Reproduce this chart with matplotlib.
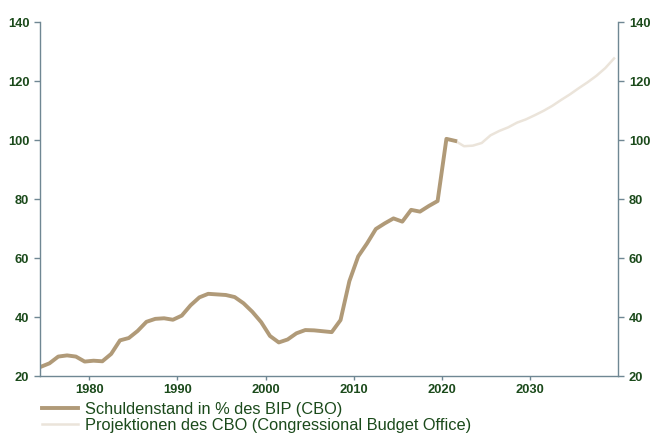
import matplotlib.pyplot as plt
import numpy as np

plt.rcParams['font.family'] = ['Liberation Sans', 'DejaVu Sans']

# Schuldenstand in % des BIP (CBO), 1974-2021
hist_years = list(range(1974, 2022))
hist_vals = [23.1, 24.3, 26.6, 27.0, 26.6, 24.9, 25.2, 25.0, 27.5, 32.1,
             32.9, 35.3, 38.4, 39.4, 39.6, 39.1, 40.5, 44.0, 46.7, 47.9,
             47.7, 47.5, 46.8, 44.7, 41.8, 38.3, 33.6, 31.4, 32.4, 34.5,
             35.6, 35.5, 35.2, 34.9, 39.0, 52.2, 60.6, 65.0, 69.9, 71.8,
             73.5, 72.4, 76.4, 75.8, 77.7, 79.4, 100.5, 99.8]

# CBO projections, 2021-2039
proj_years = list(range(2021, 2040))
proj_vals = [99.8, 98.0, 98.2, 99.1, 101.7, 103.2, 104.4, 106.0, 107.1,
             108.5, 110.0, 111.7, 113.7, 115.6, 117.7, 119.7, 121.9, 124.5,
             127.8]

xticks = [1980, 1990, 2000, 2010, 2020, 2030]
yticks = [20, 40, 60, 80, 100, 120, 140]

hist_label = 'Schuldenstand in % des BIP (CBO)'
proj_label = 'Projektionen des CBO (Congressional Budget Office)'

text_col = '#1b4a1b'
axis_col = '#6f8793'

fig = plt.figure(figsize=(6.51, 4.34), dpi=100)
ax = fig.add_axes([0.061, 0.1336, 0.889, 0.8146])

# values are annual, drawn at mid-year
ax.plot(np.array(proj_years) + 0.5, proj_vals, color='#ebe4da', lw=1.8,
        label=proj_label, solid_joinstyle='round')
ax.plot(np.array(hist_years) + 0.5, hist_vals, color='#b09a78', lw=2.8,
        label=hist_label, solid_joinstyle='round')

ax.set_xlim(1974.4, 2040)
ax.set_ylim(20, 140)
ax.set_xticks(xticks)
ax.set_yticks(yticks)

ax.spines['top'].set_visible(False)
for s in ['left', 'right', 'bottom']:
    ax.spines[s].set_color(axis_col)
    ax.spines[s].set_linewidth(1.0)

ax.tick_params(axis='both', colors=axis_col, length=4, width=1,
               labelcolor=text_col, labelsize=9.3)
ax.tick_params(axis='y', right=True, labelright=True, pad=3.5)
ax.tick_params(axis='x', length=3, pad=3)
for lab in ax.get_xticklabels() + ax.get_yticklabels():
    lab.set_fontweight('bold')
for t in ax.yaxis.get_major_ticks():
    t.label2.set_fontweight('bold')

handles, labels = ax.get_legend_handles_labels()
leg = fig.legend(handles[::-1], labels[::-1], loc='upper left',
                 bbox_to_anchor=(0.064, 0.074), frameon=False,
                 fontsize=11.8, handlelength=2.2, handletextpad=0.45,
                 labelspacing=0.08, borderaxespad=0, borderpad=0)
for t in leg.get_texts():
    t.set_color(text_col)

fig.savefig('out.png', dpi=100)
